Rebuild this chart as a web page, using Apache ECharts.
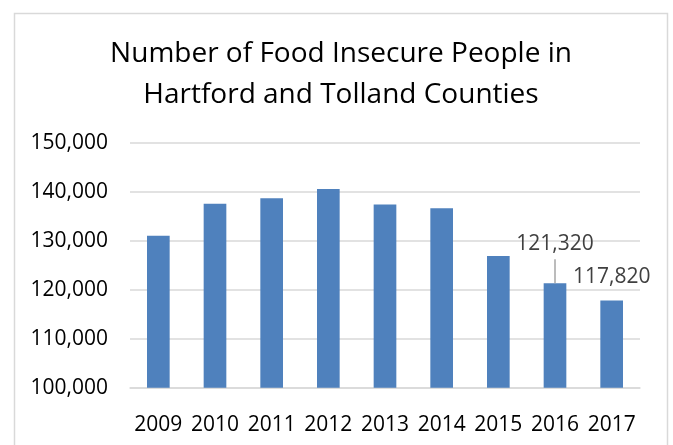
<!DOCTYPE html>
<html>
<head>
<meta charset="utf-8">
<script src="https://cdn.jsdelivr.net/npm/echarts@6/dist/echarts.min.js"></script>
<style>
html,body{margin:0;padding:0;background:#fff;}
#chart{width:673px;height:445px;}
</style>
</head>
<body>
<div id="chart"></div>
<script>
var titleText = 'Number of Food Insecure People in\nHartford and Tolland Counties';
var years = ['2009','2010','2011','2012','2013','2014','2015','2016','2017'];
var values = [131000, 137550, 138650, 140550, 137400, 136600, 126900, 121320, 117820];
var leaderYears = ['2016'];
var plainLabelYears = ['2017'];
var yTicks = [100000, 110000, 120000, 130000, 140000, 150000];

var FONT = '"Open Sans", sans-serif';
var chart = echarts.init(document.getElementById('chart'), null, {renderer:'canvas'});

function fmt(v){ return v.toLocaleString('en-US'); }

var seriesData = values.map(function(v, i){
  var y = years[i];
  if (leaderYears.indexOf(y) >= 0) {
    return {value: v, label: {show: true, distance: 0,
      formatter: function(p){ return '{v|' + fmt(p.value) + '}\n{l|}'; }}};
  }
  if (plainLabelYears.indexOf(y) >= 0) {
    return {value: v, label: {show: true, distance: 8,
      formatter: function(p){ return '{v|' + fmt(p.value) + '}'; }}};
  }
  return {value: v, label: {show: false}};
});

chart.setOption({
  animation: false,
  backgroundColor: '#ffffff',
  title: {
    text: titleText,
    left: 336, textAlign: 'center',
    top: 29,
    textStyle: {fontFamily: FONT, fontSize: 28, fontWeight: 'normal', color: '#000', lineHeight: 41}
  },
  graphic: [{
    type: 'rect', left: 12, top: 11,
    shape: {x: 0, y: 0, width: 653, height: 450},
    style: {fill: 'none', stroke: '#d9d9d9', lineWidth: 1.5},
    silent: true
  }],
  grid: {left: 130, right: 33, top: 142.7, bottom: 57.3, containLabel: false},
  xAxis: {
    type: 'category', data: years,
    axisLine: {show: true, lineStyle: {color: '#d9d9d9', width: 1.5}},
    axisTick: {show: false},
    axisLabel: {interval: 0, fontFamily: FONT, fontSize: 21, color: '#000', margin: 27}
  },
  yAxis: {
    type: 'value', min: yTicks[0], max: yTicks[yTicks.length-1], interval: 10000,
    axisLine: {show: false}, axisTick: {show: false},
    splitLine: {lineStyle: {color: '#d9d9d9', width: 1.5}},
    axisLabel: {fontFamily: FONT, fontSize: 21, color: '#000', margin: 22, formatter: fmt}
  },
  series: [{
    type: 'bar', data: seriesData, barCategoryGap: '60%',
    itemStyle: {color: '#4f81bd'},
    label: {position: 'top',
      rich: {
        v: {fontFamily: FONT, fontSize: 21, color: '#404040', lineHeight: 26, padding: [0,0,4,0]},
        l: {width: 1.5, height: 24, lineHeight: 24, backgroundColor: '#a6a6a6'}
      }}
  }]
});
</script>
</body>
</html>
